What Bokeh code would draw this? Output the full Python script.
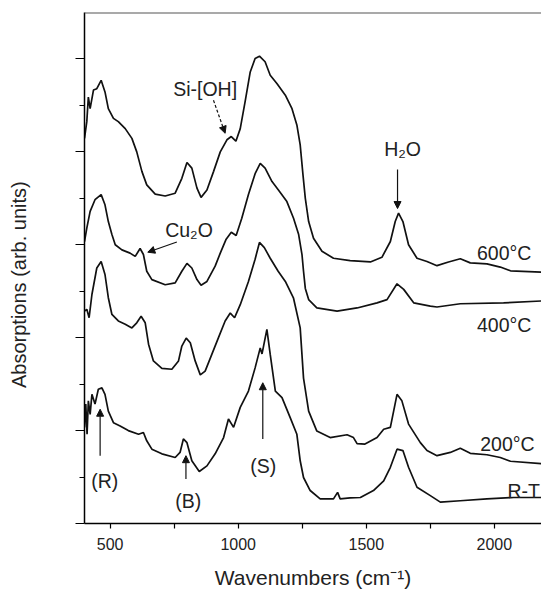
import math
from bokeh.plotting import figure
from bokeh.models import FixedTicker, Span, Label, Arrow, NormalHead, CustomLabelingPolicy
from bokeh.embed import file_html
from bokeh.resources import INLINE

# ---- data (wavenumber cm^-1, absorbance arb. units) ----
x_600 = [400, 409, 415, 422, 435, 448, 465, 480, 493, 513, 532, 559, 585, 604, 624, 643, 676, 715, 754, 780,
         800, 819, 839, 855, 878, 904, 930, 956, 973, 991, 1008, 1027, 1047, 1066, 1083, 1105, 1125, 1151, 1184,
         1210, 1229, 1242, 1253, 1262, 1275, 1294, 1327, 1372, 1437, 1516, 1561, 1594, 1613, 1626, 1643, 1665,
         1698, 1737, 1776, 1821, 1867, 1906, 1971, 2023, 2063, 2184]
y_600 = [8.29, 8.65, 9.18, 8.93, 9.33, 9.36, 9.54, 9.29, 8.93, 8.72, 8.65, 8.50, 8.29, 8.00, 7.58, 7.29, 7.09,
         7.05, 7.11, 7.43, 7.77, 7.65, 7.22, 7.02, 7.18, 7.58, 8.00, 8.26, 8.33, 8.23, 8.50, 9.08, 9.72, 10.01,
         10.06, 9.94, 9.65, 9.47, 9.22, 8.93, 8.58, 8.15, 7.50, 7.00, 6.50, 6.14, 5.86, 5.71, 5.66, 5.63, 5.73,
         6.07, 6.50, 6.68, 6.50, 6.00, 5.71, 5.64, 5.55, 5.63, 5.70, 5.61, 5.59, 5.52, 5.44, 5.41]

x_400 = [400, 409, 422, 441, 465, 480, 493, 507, 520, 546, 578, 598, 617, 630, 643, 663, 715, 754, 780, 800,
         819, 839, 855, 878, 910, 930, 953, 973, 992, 1014, 1040, 1066, 1086, 1105, 1132, 1157, 1190, 1216, 1236,
         1249, 1255, 1262, 1275, 1307, 1386, 1464, 1542, 1581, 1620, 1646, 1685, 1750, 1776, 1867, 2036, 2184]
y_400 = [6.07, 6.36, 6.72, 6.97, 7.08, 6.86, 6.50, 6.22, 6.00, 5.89, 5.82, 5.75, 5.92, 5.79, 5.43, 5.25, 5.14,
         5.18, 5.43, 5.60, 5.50, 5.25, 5.13, 5.21, 5.54, 5.82, 6.12, 6.27, 6.20, 6.57, 7.08, 7.53, 7.75, 7.65,
         7.36, 7.18, 6.93, 6.57, 6.22, 5.79, 5.43, 5.06, 4.82, 4.64, 4.57, 4.64, 4.75, 4.82, 5.16, 5.04, 4.75,
         4.68, 4.66, 4.73, 4.75, 4.79]

x_200 = [400, 409, 418, 429, 448, 465, 480, 493, 507, 532, 559, 585, 604, 621, 637, 650, 669, 702, 741, 767,
         780, 797, 813, 832, 852, 871, 897, 923, 949, 969, 986, 1008, 1040, 1066, 1083, 1102, 1125, 1156, 1184,
         1216, 1242, 1255, 1275, 1307, 1359, 1425, 1450, 1464, 1495, 1542, 1568, 1594, 1620, 1639, 1665, 1711,
         1737, 1776, 1828, 1867, 1906, 1971, 2023, 2063, 2184]
y_200 = [4.57, 4.61, 4.43, 4.93, 5.50, 5.64, 5.36, 4.86, 4.50, 4.36, 4.29, 4.21, 4.32, 4.46, 4.32, 3.86, 3.50,
         3.34, 3.32, 3.50, 3.82, 3.99, 3.89, 3.50, 3.20, 3.28, 3.64, 4.00, 4.36, 4.53, 4.43, 4.71, 5.21, 5.69,
         6.05, 5.94, 5.71, 5.43, 5.21, 4.85, 4.21, 3.13, 2.42, 1.99, 1.85, 1.91, 1.85, 1.72, 1.71, 1.85, 2.03,
         2.07, 2.78, 2.64, 2.14, 1.74, 1.57, 1.46, 1.53, 1.62, 1.51, 1.48, 1.42, 1.34, 1.29]

x_rt = [400, 405, 410, 415, 422, 429, 441, 454, 468, 480, 493, 513, 539, 571, 611, 630, 643, 663, 702, 754,
        773, 786, 800, 819, 848, 878, 910, 943, 962, 982, 1008, 1040, 1066, 1086, 1093, 1112, 1125, 1145, 1171,
        1203, 1229, 1242, 1255, 1281, 1320, 1372, 1388, 1398, 1437, 1477, 1528, 1568, 1594, 1620, 1643, 1665,
        1698, 1750, 1789, 1867, 1971, 2075, 2184]
y_rt = [2.07, 2.57, 1.92, 2.64, 2.35, 2.78, 2.57, 2.89, 2.92, 2.78, 2.42, 2.17, 2.10, 2.00, 1.92, 1.96, 1.78,
        1.60, 1.50, 1.42, 1.53, 1.82, 1.74, 1.35, 1.12, 1.24, 1.50, 1.85, 2.25, 2.07, 2.50, 2.85, 3.35, 3.78,
        3.65, 4.18, 3.64, 2.85, 2.71, 2.28, 1.92, 1.35, 0.99, 0.71, 0.53, 0.53, 0.67, 0.53, 0.55, 0.56, 0.71,
        0.92, 1.21, 1.60, 1.57, 1.21, 0.78, 0.60, 0.46, 0.49, 0.53, 0.56, 0.56]

x_major_ticks = [500, 1000, 1500, 2000]
x_minor_ticks = [750, 1250, 1750]
y_major_ticks = [0, 2, 4, 6, 8, 10]
y_minor_ticks = [1, 3, 5, 7, 9]

FONT = "Liberation Sans"
TXT = "#222222"

p = figure(width=541, height=592, x_range=(400, 2184), y_range=(0, 11),
           output_backend="svg", toolbar_location=None, title=None,
           min_border_left=84, min_border_right=0, min_border_top=12, min_border_bottom=69)
p.outline_line_color = None
p.xgrid.visible = False
p.ygrid.visible = False
p.background_fill_color = "white"

for xs, ys in [(x_600, y_600), (x_400, y_400), (x_200, y_200), (x_rt, y_rt)]:
    p.line(xs, ys, line_color="#111111", line_width=1.7)

# axes
xa = p.xaxis[0]
xa.ticker = FixedTicker(ticks=x_major_ticks, minor_ticks=x_minor_ticks)
xa.major_tick_in = 0
xa.major_tick_out = 5
xa.minor_tick_in = 0
xa.minor_tick_out = 5
xa.axis_line_width = 1.5
xa.major_tick_line_width = 1.2
xa.minor_tick_line_width = 1.2
xa.major_label_text_font = FONT
xa.major_label_text_font_size = "16px"
xa.major_label_text_color = TXT
xa.major_label_standoff = 9
xa.axis_label = "Wavenumbers (cm\u207b\u00b9)"
xa.axis_label_text_font = FONT
xa.axis_label_text_font_size = "21px"
xa.axis_label_text_font_style = "normal"
xa.axis_label_text_color = TXT
xa.axis_label_standoff = 13

ya = p.yaxis[0]
ya.ticker = FixedTicker(ticks=y_major_ticks, minor_ticks=y_minor_ticks)
ya.major_tick_in = 0
ya.major_tick_out = 9
ya.minor_tick_in = 0
ya.minor_tick_out = 5
ya.axis_line_width = 1.5
ya.major_tick_line_width = 1.2
ya.minor_tick_line_width = 1.2
ya.major_label_policy = CustomLabelingPolicy(code="return new Set()")
ya.major_label_text_font_size = "1px"
ya.major_label_standoff = 0
# trailing no-break spaces shift the centred title down, as in the reference
ya.axis_label = "Absorptions (arb. units)" + "\u00a0" * 6
ya.axis_label_text_font = FONT
ya.axis_label_text_font_size = "20px"
ya.axis_label_text_font_style = "normal"
ya.axis_label_text_color = TXT
ya.axis_label_standoff = 41

# top border line
p.add_layout(Span(location=11, dimension="width", line_color="#555555", line_width=2))

# annotation labels
labels = [
    ("Si-[OH]", 746, 9.36, "left"), ("Cu\u2082O", 715, 6.32, "left"), ("H\u2082O", 1570, 8.07, "left"),
    ("(R)", 426, 0.92, "left"), ("(B)", 754, 0.49, "left"), ("(S)", 1047, 1.24, "left"),
    ("600\u00b0C", 1932, 5.82, "left"), ("400\u00b0C", 1932, 4.27, "left"), ("200\u00b0C", 1945, 1.72, "left"),
    ("R-T", 2178, 0.69, "right"),
]
for t, lx, ly, al in labels:
    p.add_layout(Label(x=lx, y=ly, text=t, text_font=FONT, text_font_size="19.5px",
                       text_color=TXT, text_align=al, text_baseline="alphabetic"))

arrows = [
    (903.5, 9.11, 949, 8.40, "3 2"),
    (760.5, 6.06, 647, 5.84, "solid"),
    (1622, 7.62, 1622, 6.78, "solid"),
    (461, 1.46, 461, 2.46, "solid"),
    (796, 0.96, 796, 1.46, "solid"),
    (1096, 1.82, 1096, 3.03, "solid"),
]
for x0, y0, x1, y1, dash in arrows:
    p.add_layout(Arrow(x_start=x0, y_start=y0, x_end=x1, y_end=y1, line_width=1.2,
                       line_color="#111111", line_dash=dash,
                       end=NormalHead(size=7, fill_color="#111111", line_color="#111111", line_width=1)))

open("out.html", "w").write(file_html(p, INLINE))
